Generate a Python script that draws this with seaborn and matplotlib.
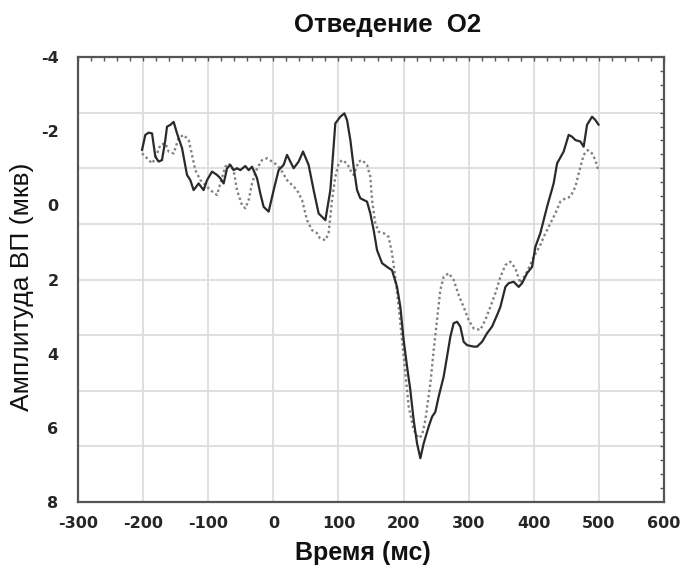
import numpy as np
import pandas as pd
import matplotlib
matplotlib.use("Agg")
import matplotlib.pyplot as plt
from matplotlib.ticker import FixedLocator
from matplotlib.transforms import ScaledTranslation
import seaborn as sns

# Evoked potential, lead O2: time (ms) and amplitude (uV) for two conditions
time_a = [-201.7, -196.6, -191.5, -186.3, -181.2, -176.2, -171.0, -165.9, -163.3, -158.2,
          -153.1, -147.9, -140.2, -132.6, -127.5, -122.4, -114.7, -107.1, -101.8, -94.2,
          -86.5, -81.4, -76.3, -71.1, -66.0, -61.0, -55.8, -50.7, -43.0, -37.9,
          -32.7, -25.0, -20.0, -14.9, -7.2, 0.5, 8.1, 15.8, 21.0, 26.1,
          31.2, 38.9, 45.6, 54.2, 61.9, 69.6, 74.8, 79.9, 87.6, 95.2,
          102.9, 109.1, 113.2, 118.3, 123.3, 128.6, 133.6, 143.9, 149.0, 154.1,
          159.3, 167.0, 174.6, 182.3, 190.0, 195.1, 200.1, 205.4, 210.4, 215.5,
          220.7, 225.8, 230.9, 238.5, 243.8, 248.8, 253.9, 261.6, 266.8, 271.9,
          276.9, 282.2, 287.2, 292.3, 297.5, 307.7, 312.9, 320.6, 328.2, 335.9,
          343.6, 348.7, 356.4, 361.4, 369.1, 376.8, 382.0, 389.7, 397.4, 402.4,
          410.1, 420.4, 430.5, 435.8, 445.9, 453.6, 458.8, 463.9, 471.6, 476.6,
          481.8, 489.5, 494.6, 499.7]
amp_a = [-1.49, -1.90, -1.96, -1.94, -1.31, -1.18, -1.22, -1.76, -2.12, -2.17,
         -2.25, -1.94, -1.54, -0.82, -0.68, -0.41, -0.59, -0.41, -0.68, -0.91,
         -0.82, -0.73, -0.59, -1.00, -1.09, -0.95, -1.00, -0.95, -1.06, -0.95,
         -1.04, -0.73, -0.32, 0.04, 0.17, -0.41, -0.95, -1.09, -1.36, -1.18,
         -1.00, -1.18, -1.45, -1.09, -0.41, 0.22, 0.31, 0.40, -0.41, -2.21,
         -2.39, -2.48, -2.30, -1.76, -1.04, -0.41, -0.19, -0.10, 0.22, 0.67,
         1.21, 1.56, 1.66, 1.75, 2.20, 2.74, 3.63, 4.35, 4.98, 5.79,
         6.42, 6.82, 6.42, 5.97, 5.70, 5.57, 5.16, 4.62, 4.08, 3.54,
         3.18, 3.14, 3.27, 3.68, 3.77, 3.81, 3.81, 3.68, 3.45, 3.27,
         2.96, 2.74, 2.20, 2.10, 2.06, 2.20, 2.10, 1.83, 1.66, 1.12,
         0.75, 0.04, -0.59, -1.13, -1.45, -1.90, -1.85, -1.76, -1.72, -1.58,
         -2.17, -2.39, -2.30, -2.17]

time_b = [-201.7, -194.0, -186.3, -181.2, -173.6, -165.9, -160.8, -153.1, -145.5, -137.8,
          -130.1, -124.9, -119.8, -112.1, -104.4, -96.8, -86.5, -81.4, -73.7, -68.6,
          -61.0, -55.8, -48.1, -43.0, -37.9, -32.7, -25.0, -17.4, -9.7, -2.0,
          5.7, 13.4, 21.0, 28.7, 36.4, 44.1, 51.8, 59.4, 67.1, 71.7,
          79.9, 84.9, 90.1, 95.2, 100.3, 105.5, 113.2, 118.3, 123.3, 131.0,
          136.2, 143.9, 149.0, 151.6, 156.7, 161.7, 169.4, 177.1, 182.3, 187.4,
          192.5, 197.7, 202.8, 207.9, 215.5, 223.2, 228.4, 233.5, 241.2, 246.3,
          251.4, 256.5, 261.6, 269.3, 276.9, 284.6, 292.3, 300.0, 307.7, 317.9,
          325.6, 333.3, 341.0, 348.7, 356.4, 364.0, 371.7, 379.4, 389.7, 399.9,
          410.1, 415.2, 425.4, 433.1, 440.8, 448.5, 456.2, 463.9, 469.0, 476.6,
          482.8, 489.5, 494.6, 499.7]
amp_b = [-1.40, -1.27, -1.13, -1.27, -1.63, -1.67, -1.45, -1.40, -1.81, -1.90,
         -1.76, -1.36, -0.95, -0.68, -0.55, -0.41, -0.28, -0.59, -1.04, -1.13,
         -0.95, -0.41, -0.01, 0.08, -0.14, -0.59, -1.00, -1.22, -1.27, -1.18,
         -1.09, -0.91, -0.68, -0.55, -0.41, -0.14, 0.40, 0.67, 0.75, 0.89,
         0.94, 0.75, -0.14, -0.77, -1.13, -1.22, -1.13, -0.95, -0.82, -1.18,
         -1.22, -1.09, -0.77, -0.14, 0.49, 0.71, 0.75, 0.85, 1.29, 1.95,
         2.74, 3.63, 4.53, 5.43, 6.06, 6.28, 6.20, 5.79, 4.80, 3.90,
         3.09, 2.28, 1.93, 1.83, 2.01, 2.42, 2.74, 3.09, 3.32, 3.36,
         3.09, 2.74, 2.37, 1.93, 1.61, 1.52, 1.70, 2.10, 1.79, 1.39,
         1.07, 0.85, 0.49, 0.22, -0.10, -0.19, -0.23, -0.50, -0.86, -1.36,
         -1.49, -1.40, -1.22, -0.91]

x_ticks = [-300, -200, -100, 0, 100, 200, 300, 400, 500, 600]
y_ticks = [-4, -2, 0, 2, 4, 6, 8]
y_grid = [-2.5, -1.0, 0.5, 2.0, 3.5, 5.0, 6.5]

title = "Отведение  O2"
x_label = "Время (мс)"
y_label = "Амплитуда ВП (мкв)"

sns.set_style("white")
plt.rcParams["font.family"] = ["Liberation Sans", "DejaVu Sans"]
plt.rcParams["axes.unicode_minus"] = False

fig = plt.figure(figsize=(6.87, 5.75), dpi=100)
ax = fig.add_axes([78 / 687, 1 - 502 / 575, 586 / 687, 445 / 575])

df_a = pd.DataFrame({"t": time_a, "amp": amp_a})
df_b = pd.DataFrame({"t": time_b, "amp": amp_b})

# grid
for xv in x_ticks[1:-1]:
    ax.axvline(xv, color="#dddddd", lw=1.3, zorder=0)
for yv in y_grid:
    ax.axhline(yv, color="#dddddd", lw=1.3, zorder=0)

sns.lineplot(data=df_b, x="t", y="amp", ax=ax, sort=False, estimator=None,
             color="#808080", lw=1.7, linestyle=(0, (1, 1.2)))
sns.lineplot(data=df_a, x="t", y="amp", ax=ax, sort=False, estimator=None,
             color="#2a2a2a", lw=1.6)

ax.set_xlim(-300, 600)
ax.set_ylim(8, -4)

ax.xaxis.set_major_locator(FixedLocator(x_ticks))
ax.xaxis.set_minor_locator(FixedLocator(np.arange(-300, 601, 20)))
ax.set_xticklabels([str(v) for v in x_ticks], fontfamily="DejaVu Sans",
                   fontweight="bold", fontsize=11.5)
ax.yaxis.set_major_locator(FixedLocator(y_ticks))
ax.yaxis.set_minor_locator(FixedLocator(np.arange(-4, 8.001, 0.375)))
ax.set_yticklabels([str(v) for v in y_ticks], fontfamily="DejaVu Sans",
                   fontweight="bold", fontsize=11.5)

# x labels sit a little to the right of their ticks
shift = ScaledTranslation(5 / 100, 0, fig.dpi_scale_trans)
for lab in ax.get_xticklabels():
    lab.set_transform(lab.get_transform() + shift)

ax.tick_params(axis="x", which="major", direction="in", length=3, width=1,
               color="#555555", pad=10, top=True)
ax.tick_params(axis="x", which="minor", direction="in", length=3, width=1,
               color="#555555", top=True)
ax.tick_params(axis="y", which="major", length=0, pad=14)
ax.tick_params(axis="y", which="minor", direction="in", length=3, width=1,
               color="#555555", right=True)

for s in ax.spines.values():
    s.set_color("#555555")
    s.set_linewidth(1.6)
    s.set_visible(True)

ax.set_xlabel("")
ax.set_ylabel("")
fig.text(363 / 687, 1 - 553 / 575, x_label, ha="center", va="center",
         fontsize=18, fontweight="bold", color="#111111")
fig.text(22 / 687, 1 - 287 / 575, y_label, ha="center", va="center",
         rotation=90, fontsize=19, color="#111111")
fig.text(388 / 687, 1 - 25 / 575, title, ha="center", va="center",
         fontsize=18.5, fontweight="bold", color="#111111")

fig.savefig("out.png", dpi=100, facecolor="white")
